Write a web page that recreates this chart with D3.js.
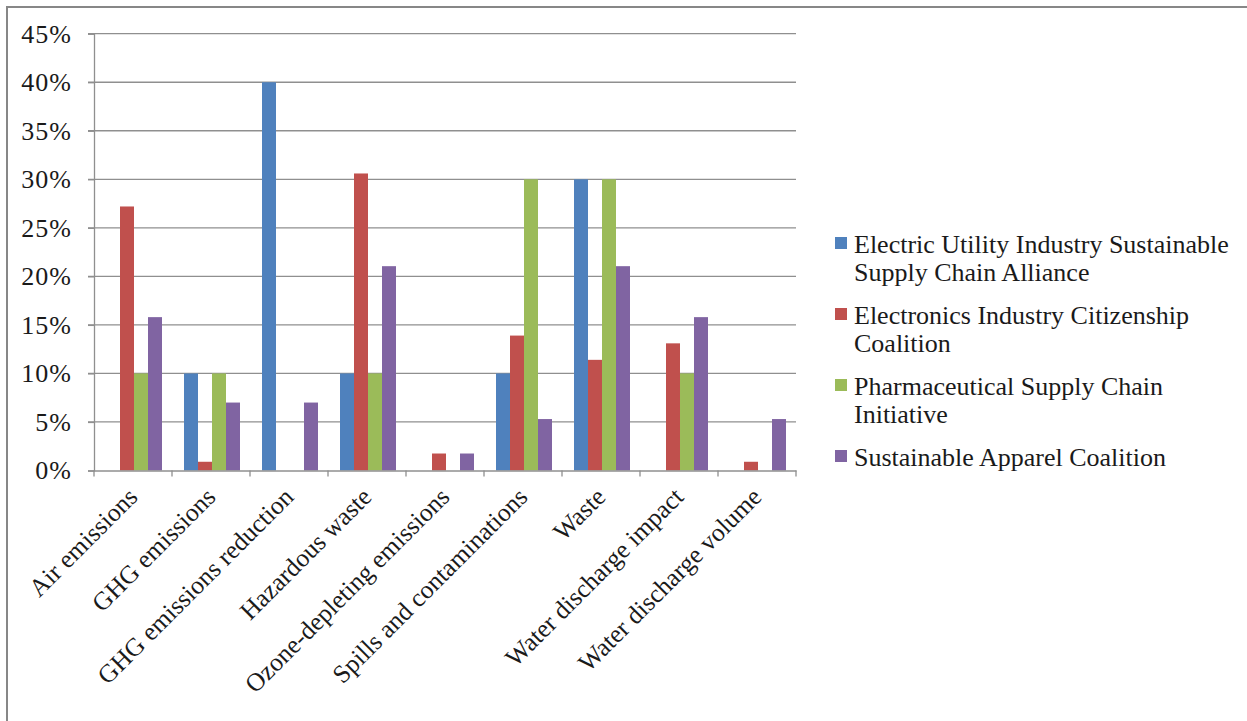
<!DOCTYPE html>
<html>
<head>
<meta charset="utf-8">
<script src="https://cdn.jsdelivr.net/npm/d3@7"></script>
<style>
  html, body { margin: 0; padding: 0; background: #ffffff; }
  svg { display: block; }
  text { font-family: "Liberation Serif", "Times New Roman", serif; fill: #1a1a1a; }
</style>
</head>
<body>
<svg id="chart" width="1247" height="721"></svg>
<script>
const categories = ["Air emissions", "GHG emissions", "GHG emissions reduction", "Hazardous waste",
  "Ozone-depleting emissions", "Spills and contaminations", "Waste", "Water discharge impact", "Water discharge volume"];
const seriesNames = [
  ["Electric Utility Industry Sustainable", "Supply Chain Alliance"],
  ["Electronics Industry Citizenship", "Coalition"],
  ["Pharmaceutical Supply Chain", "Initiative"],
  ["Sustainable Apparel Coalition"]
];
const electricUtility = [0, 10, 40, 10, 0, 10, 30, 0, 0];
const electronicsIndustry = [27.2, 0.9, 0, 30.6, 1.75, 13.9, 11.4, 13.1, 0.9];
const pharmaceutical = [10, 10, 0, 10, 0, 30, 30, 10, 0];
const apparelCoalition = [15.8, 7.0, 7.0, 21.05, 1.75, 5.3, 21.05, 15.8, 5.3];
const yTicks = [0, 5, 10, 15, 20, 25, 30, 35, 40, 45];
const colors = ["#4f81bd", "#c0504d", "#9bbb59", "#8064a2"];

const allSeries = [electricUtility, electronicsIndustry, pharmaceutical, apparelCoalition];

const svg = d3.select("#chart");
const plot = { left: 94, right: 796, top: 33.7, bottom: 470.5 };

// outer frame (top and left edges visible)
svg.append("line").attr("x1", 6).attr("x2", 1247).attr("y1", 7).attr("y2", 7)
  .attr("stroke", "#878787").attr("stroke-width", 2);
svg.append("line").attr("x1", 7).attr("x2", 7).attr("y1", 6).attr("y2", 721)
  .attr("stroke", "#878787").attr("stroke-width", 2);

const y = d3.scaleLinear().domain([0, 45]).range([plot.bottom, plot.top]);
const x0 = d3.scaleBand().domain(categories).range([plot.left, plot.right]).paddingInner(0).paddingOuter(0);
const x1 = d3.scaleBand().domain(d3.range(4)).range([12, x0.bandwidth() - 10]).padding(0);

// gridlines
svg.append("g").selectAll("line").data(yTicks.filter(d => d > 0)).join("line")
  .attr("x1", plot.left - 6).attr("x2", plot.right)
  .attr("y1", d => y(d)).attr("y2", d => y(d))
  .attr("stroke", "#8f8f8f").attr("stroke-width", 1.3);

// y axis
const yAxis = d3.axisLeft(y).tickValues(yTicks).tickFormat(d => d + "%").tickSize(6).tickPadding(16);
const gy = svg.append("g").attr("transform", `translate(${plot.left},0)`).call(yAxis);
gy.select(".domain").attr("stroke", "#8f8f8f").attr("stroke-width", 1.3);
gy.selectAll(".tick line").attr("stroke", "#8f8f8f").attr("stroke-width", 1.3);
gy.selectAll(".tick text").attr("font-size", 26).attr("letter-spacing", 1)
  .attr("font-family", "Liberation Serif").attr("fill", "#1a1a1a");

// bars
const groups = svg.append("g").selectAll("g").data(categories).join("g")
  .attr("transform", d => `translate(${x0(d)},0)`);
groups.selectAll("rect").data((d, i) => allSeries.map((s, k) => ({ k, v: s[i] }))).join("rect")
  .filter(d => d.v > 0)
  .attr("x", d => x1(d.k))
  .attr("width", x1.bandwidth())
  .attr("y", d => y(d.v))
  .attr("height", d => y(0) - y(d.v))
  .attr("fill", d => colors[d.k]);

// x axis
const xAxis = d3.axisBottom(x0).tickSize(0).tickFormat("");
const gx = svg.append("g").attr("transform", `translate(0,${plot.bottom})`).call(xAxis);
gx.select(".domain").attr("stroke", "#8f8f8f").attr("stroke-width", 1.3);
const boundaries = categories.map(c => x0(c)).concat([plot.right]);
gx.append("g").selectAll("line").data(boundaries).join("line")
  .attr("x1", d => d).attr("x2", d => d).attr("y1", 0).attr("y2", 6)
  .attr("stroke", "#8f8f8f").attr("stroke-width", 1.3);

svg.append("g").selectAll("text").data(categories).join("text")
  .attr("transform", d => `translate(${x0(d) + x0.bandwidth() / 2 + 6},${plot.bottom + 28}) rotate(-45)`)
  .attr("text-anchor", "end")
  .attr("font-size", 25.5)
  .text(d => d);

// legend
const legend = svg.append("g");
seriesNames.forEach((lines, i) => {
  const base = 253 + i * 71;
  legend.append("rect").attr("x", 835).attr("y", base - 16).attr("width", 12).attr("height", 12)
    .attr("fill", colors[i]);
  const t = legend.append("text").attr("x", 854).attr("y", base).attr("font-size", 26);
  lines.forEach((ln, j) => {
    t.append("tspan").attr("x", 854).attr("y", base + j * 28).text(ln);
  });
});
</script>
</body>
</html>
